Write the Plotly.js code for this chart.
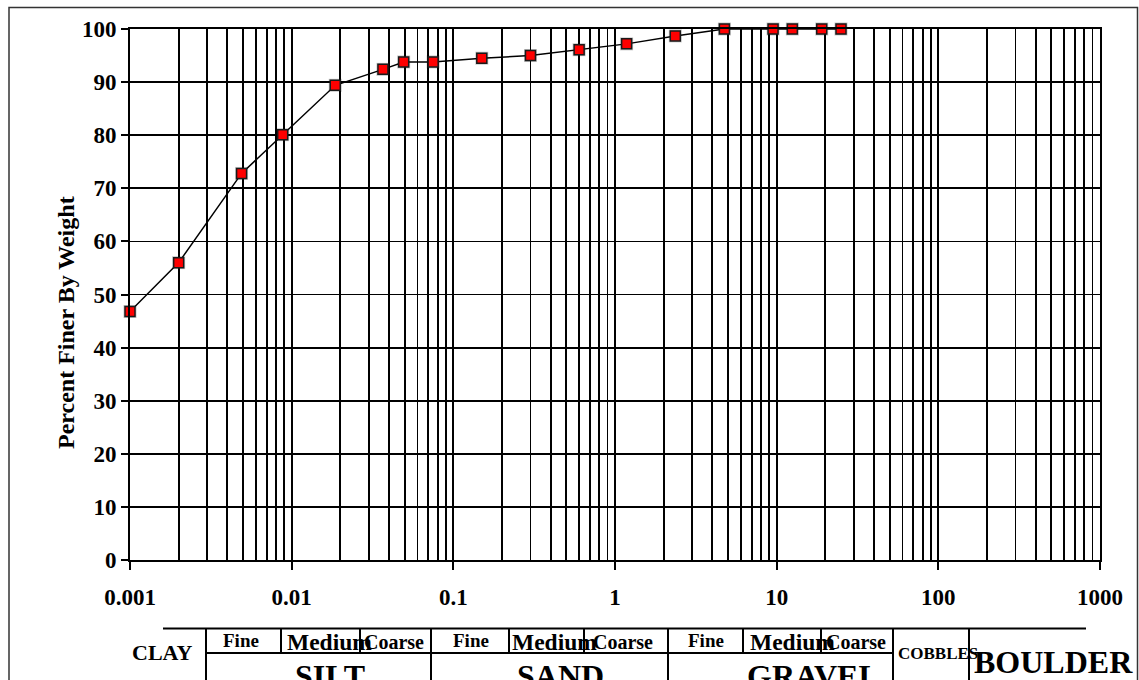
<!DOCTYPE html>
<html>
<head>
<meta charset="utf-8">
<script src="https://cdn.plot.ly/plotly-3.0.1.min.js"></script>
<style>
  html, body { margin: 0; padding: 0; background: #fff; }
  #chart { width: 1139px; height: 680px; }
</style>
</head>
<body>
<div id="chart"></div>
<script>
// Grain size distribution (hydrometer + sieve analysis)
const grainSize = [0.001, 0.002, 0.0049, 0.0088, 0.0186, 0.0367, 0.0493, 0.075, 0.15, 0.3, 0.6, 1.18, 2.36, 4.75, 9.5, 12.5, 19, 25];
const percentFiner = [46.8, 56.0, 72.8, 80.1, 89.4, 92.4, 93.8, 93.8, 94.5, 95.0, 96.1, 97.2, 98.7, 100, 100, 100, 100, 100];

const xTickVals = [0.001, 0.01, 0.1, 1, 10, 100, 1000];
const xTickText = ['0.001', '0.01', '0.1', '1', '10', '100', '1000'];
const yTickVals = [0, 10, 20, 30, 40, 50, 60, 70, 80, 90, 100];

// Soil classification band below the axis
const bandMain = ['CLAY', 'SILT', 'SAND', 'GRAVEL', 'COBBLES', 'BOULDER'];
const bandSub = ['Fine', 'Medium', 'Coarse'];

const FONT = '"Liberation Serif", "Times New Roman", serif';

// plot area in pixels: left 130, right 1100, top 29, bottom 560
const L = 130, R = 1100, T = 29, B = 560;
const px = v => (v - L) / (R - L);
const py = v => (B - v) / (B - T);

const shapes = [];
const line = (x0, y0, x1, y1, w, c) => shapes.push({
  type: 'line', xref: 'paper', yref: 'paper',
  x0: px(x0), y0: py(y0), x1: px(x1), y1: py(y1),
  line: { color: c || '#000', width: w || 2 }, layer: 'above'
});

// outer frame
shapes.push({
  type: 'rect', xref: 'paper', yref: 'paper',
  x0: px(9), x1: px(1137.5), y0: py(7.5), y1: py(720),
  line: { color: '#333', width: 1.5 }, fillcolor: 'rgba(0,0,0,0)', layer: 'below'
});

// band table rules
const rowTop = 628.5, rowMid = 653, rowBot = 700;
line(163, rowTop, 1086, rowTop, 2);
line(206, rowMid, 893, rowMid, 2);
[206, 431, 668, 893, 969].forEach(x => line(x, rowTop, x, rowBot, 2));
[281, 360, 509, 584, 743, 821].forEach(x => line(x, rowTop, x, rowMid, 2));

const annotations = [];
const label = (text, x, y, size, opts) => annotations.push(Object.assign({
  text: text, xref: 'paper', yref: 'paper', x: px(x), y: py(y),
  xanchor: 'center', yanchor: 'middle', showarrow: false,
  font: { family: FONT, size: size, color: '#000', weight: 'bold' }
}, opts || {}));

label(bandMain[0], 162, 652, 22);
const subCenters = [[241, 329, 394], [471, 554, 623], [706, 792, 856]];
const subSizes = [19, 23.5, 20];
const subY = [640, 642, 642];
subCenters.forEach(group => group.forEach((x, i) => label(bandSub[i], x, subY[i], subSizes[i])));
label(bandMain[1], 330, 676, 32);
label(bandMain[2], 560, 676, 32);
label(bandMain[3], 813, 676, 32);
label(bandMain[4], 938, 653, 17);
label(bandMain[5], 1053, 662, 32);

// y-axis title
label('Percent Finer By Weight', 66, 323, 24, { textangle: -90 });

// soft halo behind the markers
const halo = {
  x: grainSize, y: percentFiner,
  type: 'scatter', mode: 'markers',
  marker: { symbol: 'square', size: 13, color: 'rgba(0,0,0,0.22)' },
  cliponaxis: false, hoverinfo: 'skip'
};

const trace = {
  x: grainSize, y: percentFiner,
  type: 'scatter', mode: 'lines+markers',
  line: { color: '#000', width: 1.5 },
  marker: { symbol: 'square', size: 10, color: '#ff0000', line: { color: '#1a1a1a', width: 1.5 } },
  cliponaxis: false, hoverinfo: 'x+y'
};

const layout = {
  width: 1139, height: 680,
  margin: { l: L, r: 1139 - R, t: T, b: 680 - B, pad: 0 },
  paper_bgcolor: '#fff', plot_bgcolor: '#fff',
  showlegend: false,
  font: { family: FONT, color: '#000' },
  xaxis: {
    type: 'log', range: [-3, 3],
    tickvals: xTickVals, ticktext: xTickText,
    ticks: 'outside', ticklen: 8, tickwidth: 2, tickcolor: '#000',
    ticklabelstandoff: 7,
    tickfont: { family: FONT, size: 23, color: '#000', weight: 'bold' },
    showgrid: true, gridcolor: '#000', gridwidth: 1.8,
    minor: { dtick: 'D1', showgrid: true, gridcolor: '#000', gridwidth: 1.8, ticks: '' },
    showline: true, linecolor: '#000', linewidth: 2, mirror: true,
    zeroline: false, fixedrange: true
  },
  yaxis: {
    range: [0, 100], tickvals: yTickVals,
    ticks: 'outside', ticklen: 7, tickwidth: 2, tickcolor: '#000',
    tickfont: { family: FONT, size: 23, color: '#000', weight: 'bold' },
    showgrid: true, gridcolor: '#000', gridwidth: 1.8,
    showline: true, linecolor: '#000', linewidth: 2, mirror: true,
    zeroline: false, fixedrange: true
  },
  shapes: shapes,
  annotations: annotations
};

Plotly.newPlot('chart', [halo, trace], layout, { displayModeBar: false, staticPlot: true });
</script>
</body>
</html>
